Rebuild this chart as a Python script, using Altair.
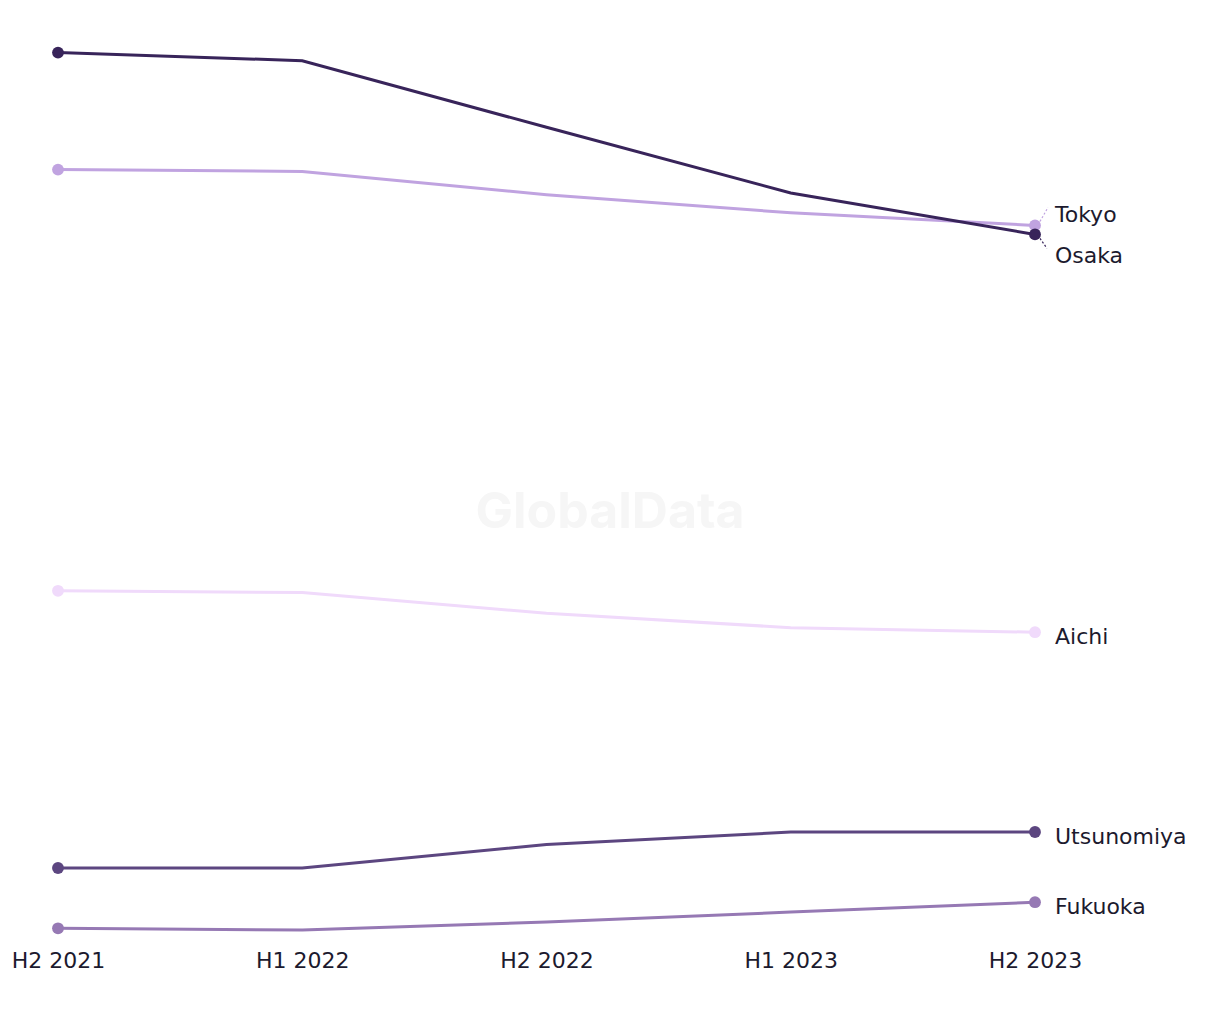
import altair as alt
import pandas as pd

periods = ["H2 2021", "H1 2022", "H2 2022", "H1 2023", "H2 2023"]
cities = ["Aichi", "Fukuoka", "Utsunomiya", "Tokyo", "Osaka"]
osaka = [98.6, 97.7, 90.3, 83.0, 78.4]
tokyo = [85.6, 85.4, 82.8, 80.8, 79.4]
aichi = [38.8, 38.6, 36.3, 34.7, 34.2]
utsunomiya = [8.0, 8.0, 10.6, 12.0, 12.0]
fukuoka = [1.3, 1.1, 2.0, 3.1, 4.2]
colors = ["#f0dafb", "#9679b4", "#5c4680", "#c0a3e0", "#38245a"]

series = {"Aichi": aichi, "Fukuoka": fukuoka, "Utsunomiya": utsunomiya,
          "Tokyo": tokyo, "Osaka": osaka}
rows = []
for c in cities:
    for p, v in zip(periods, series[c]):
        rows.append({"city": c, "period": p, "value": v})
df = pd.DataFrame(rows)

FONT = "DejaVu Sans"
xenc = alt.X("period:N", sort=periods, title=None,
             scale=alt.Scale(type="point", padding=0),
             axis=alt.Axis(domain=False, ticks=False, grid=False, labelAngle=0,
                           labelFontSize=22, labelColor="#1c1a2e", labelFont=FONT,
                           labelPadding=10, labelFlush=False))
yenc = alt.Y("value:Q", scale=alt.Scale(domain=[0, 100], nice=False, zero=False), axis=None)
cscale = alt.Scale(domain=cities, range=colors)

base = alt.Chart(df)

watermark = alt.Chart(pd.DataFrame({"t": ["GlobalData"]})).mark_text(
    fontSize=50, fontWeight="bold", color="#f6f6f6", font="Inter"
).encode(text="t:N", x=alt.value(552), y=alt.value(473))

layers = [watermark]
for c in cities:
    sub = base.transform_filter(alt.datum.city == c)
    layers.append(sub.mark_line(strokeWidth=3).encode(
        x=xenc, y=yenc, color=alt.Color("city:N", scale=cscale, legend=None)))

ends = base.transform_filter(
    (alt.datum.period == periods[0]) | (alt.datum.period == periods[-1]))
layers.append(ends.mark_circle(size=140, opacity=1).encode(
    x=xenc, y=yenc, color=alt.Color("city:N", scale=cscale, legend=None)))

last = base.transform_filter(alt.datum.period == periods[-1])
label_dy = {"Aichi": 5, "Fukuoka": 5, "Utsunomiya": 5, "Tokyo": -10, "Osaka": 22}
for c in cities:
    layers.append(last.transform_filter(alt.datum.city == c).mark_text(
        align="left", baseline="middle", dx=20, dy=label_dy[c], fontSize=22,
        font=FONT, color="#1c1a2e").encode(x=xenc, y=yenc, text="city:N"))

# dashed leaders for displaced labels
layers.append(last.transform_filter(alt.datum.city == "Tokyo").mark_rule(
    strokeDash=[2, 2], strokeWidth=1.2, color="#c0a3e0",
    xOffset=5, x2Offset=13, yOffset=-4, y2Offset=-18).encode(
    x=xenc, x2=alt.X2("period:N"), y=yenc, y2=alt.Y2("value:Q")))
layers.append(last.transform_filter(alt.datum.city == "Osaka").mark_rule(
    strokeDash=[2, 2], strokeWidth=1.2, color="#38245a",
    xOffset=5, x2Offset=12, yOffset=4, y2Offset=14).encode(
    x=xenc, x2=alt.X2("period:N"), y=yenc, y2=alt.Y2("value:Q")))

chart = alt.layer(*layers).properties(
    width=977, height=900,
    autosize=alt.AutoSizeParams(type="none"),
    padding={"left": 50, "top": 32, "right": 170, "bottom": 60},
    background="white",
).configure_view(stroke=None)

chart.save("out.html", embed_options={"renderer": "svg", "actions": False})
